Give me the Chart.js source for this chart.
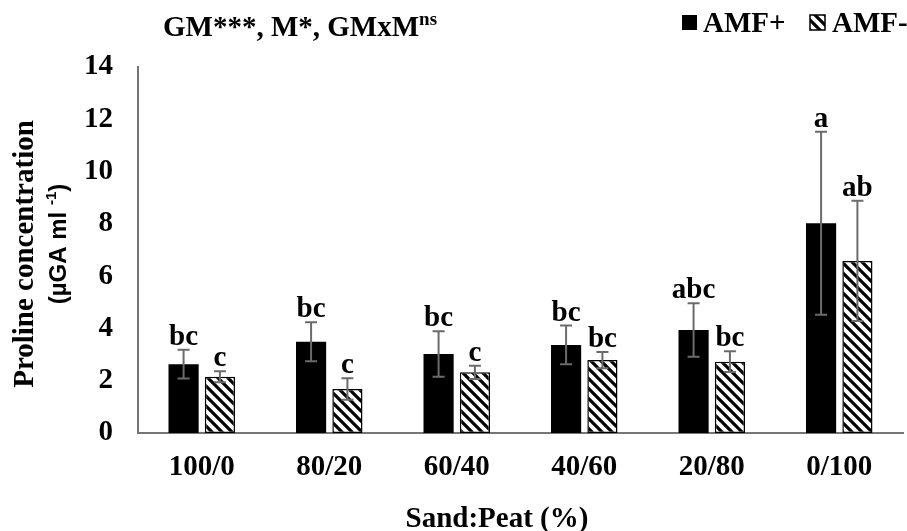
<!DOCTYPE html>
<html>
<head>
<meta charset="utf-8">
<script src="https://cdn.jsdelivr.net/npm/chart.js@4.4.1/dist/chart.umd.min.js"></script>
<style>
  body { margin: 0; background: #fff; }
  canvas { display: block; }
</style>
</head>
<body>
<canvas id="myChart" width="907" height="531"></canvas>
<script>
// données
var categories = ['100/0', '80/20', '60/40', '40/60', '20/80', '0/100'];
var amfPlus = [2.63, 3.49, 3.02, 3.37, 3.94, 8.02];
var amfPlusErr = [0.55, 0.75, 0.87, 0.74, 1.02, 3.5];
var amfMinus = [2.15, 1.68, 2.32, 2.79, 2.73, 6.58];
var amfMinusErr = [0.21, 0.41, 0.25, 0.31, 0.40, 2.3];
var amfPlusLetters = ['bc', 'bc', 'bc', 'bc', 'abc', 'a'];
var amfMinusLetters = ['c', 'c', 'c', 'bc', 'bc', 'ab'];
var yTicks = [0, 2, 4, 6, 8, 10, 12, 14];

var FONT = "'Liberation Serif', 'Times New Roman', serif";
var SANS = "'Liberation Sans', Arial, sans-serif";

// motif hachuré (diagonales \)
function makeHatch() {
    var c = document.createElement('canvas');
    c.width = 10; c.height = 10;
    var g = c.getContext('2d');
    g.fillStyle = '#fff';
    g.fillRect(0, 0, 10, 10);
    g.strokeStyle = '#000';
    g.lineWidth = 3.2;
    g.beginPath();
    g.moveTo(-2, -2); g.lineTo(12, 12);
    g.moveTo(-12, -2); g.lineTo(2, 12);
    g.moveTo(8, -2); g.lineTo(22, 12);
    g.stroke();
    return g.createPattern(c, 'repeat');
}
var hatch = makeHatch();

// barres d'erreur + lettres
var errorBarsPlugin = {
    id: 'errorBars',
    afterDatasetsDraw: function (chart) {
        var ctx = chart.ctx;
        var y = chart.scales.y;
        var sets = [
            { vals: amfPlus, err: amfPlusErr, letters: amfPlusLetters },
            { vals: amfMinus, err: amfMinusErr, letters: amfMinusLetters }
        ];
        sets.forEach(function (s, di) {
            var meta = chart.getDatasetMeta(di);
            meta.data.forEach(function (bar, i) {
                var top = y.getPixelForValue(s.vals[i] + s.err[i]);
                var bot = y.getPixelForValue(s.vals[i] - s.err[i]);
                ctx.save();
                ctx.strokeStyle = '#6b6b6b';
                ctx.lineWidth = 2;
                ctx.beginPath();
                ctx.moveTo(bar.x, top); ctx.lineTo(bar.x, bot);
                ctx.moveTo(bar.x - 6, top); ctx.lineTo(bar.x + 6, top);
                ctx.moveTo(bar.x - 6, bot); ctx.lineTo(bar.x + 6, bot);
                ctx.stroke();
                ctx.fillStyle = '#000';
                ctx.font = 'bold 29px ' + FONT;
                ctx.textAlign = 'center';
                ctx.textBaseline = 'alphabetic';
                ctx.fillText(s.letters[i], bar.x, top - 5);
                ctx.restore();
            });
        });
    }
};

// titres, légende
var textPlugin = {
    id: 'texts',
    afterDraw: function (chart) {
        var ctx = chart.ctx;
        ctx.save();
        ctx.fillStyle = '#000';
        ctx.textBaseline = 'alphabetic';

        // titre stat
        ctx.font = 'bold 29px ' + FONT;
        ctx.textAlign = 'left';
        var t = 'GM***, M*, GMxM';
        ctx.fillText(t, 163, 36);
        var w = ctx.measureText(t).width;
        ctx.font = 'bold 19px ' + FONT;
        ctx.fillText('ns', 163 + w, 25);

        // légende
        ctx.font = 'bold 29px ' + FONT;
        ctx.fillStyle = '#000';
        ctx.fillRect(682, 15, 15, 15);
        ctx.fillText('AMF+', 703, 32);
        ctx.fillStyle = hatch;
        ctx.fillRect(810, 15, 15, 15);
        ctx.strokeStyle = '#000';
        ctx.lineWidth = 1.5;
        ctx.strokeRect(810, 15, 15, 15);
        ctx.fillStyle = '#000';
        ctx.fillText('AMF-', 832, 32);

        // titre axe x
        ctx.textAlign = 'center';
        ctx.fillText('Sand:Peat (%)', 497, 527);

        // titre axe y
        ctx.translate(33, 254);
        ctx.rotate(-Math.PI / 2);
        ctx.fillText('Proline concentration', 0, 0);
        ctx.restore();

        ctx.save();
        ctx.fillStyle = '#000';
        ctx.translate(66, 244);
        ctx.rotate(-Math.PI / 2);
        ctx.font = 'bold 24px ' + SANS;
        var a = '(µGA ml ', b = '-1', c = ')';
        var wa = ctx.measureText(a).width, wc = ctx.measureText(c).width;
        ctx.font = 'bold 15px ' + SANS;
        var wb = ctx.measureText(b).width;
        var x0 = -(wa + wb + wc) / 2;
        ctx.textAlign = 'left';
        ctx.font = 'bold 24px ' + SANS;
        ctx.fillText(a, x0, 0);
        ctx.font = 'bold 15px ' + SANS;
        ctx.fillText(b, x0 + wa, -10);
        ctx.font = 'bold 24px ' + SANS;
        ctx.fillText(c, x0 + wa + wb, 0);
        ctx.restore();
    }
};

var ctx = document.getElementById('myChart').getContext('2d');
var myChart = new Chart(ctx, {
    type: 'bar',
    data: {
        labels: categories,
        datasets: [{
            label: 'AMF+',
            data: amfPlus,
            backgroundColor: '#000',
            borderWidth: 0,
            categoryPercentage: 0.57,
            barPercentage: 0.83
        }, {
            label: 'AMF-',
            data: amfMinus,
            backgroundColor: hatch,
            borderColor: '#000',
            borderWidth: 1.5,
            borderSkipped: false,
            categoryPercentage: 0.57,
            barPercentage: 0.83
        }]
    },
    options: {
        responsive: false,
        animation: false,
        devicePixelRatio: 1,
        layout: { padding: { top: 67, right: 4, left: 0, bottom: 0 } },
        plugins: {
            legend: { display: false },
            tooltip: { enabled: false }
        },
        scales: {
            x: {
                grid: { display: false, drawTicks: false },
                border: { display: true, color: '#767676', width: 2 },
                ticks: {
                    color: '#000',
                    padding: 17,
                    font: { family: FONT, size: 29, weight: 'bold' }
                },
                afterFit: function (s) { s.height = 98; }
            },
            y: {
                min: 0,
                max: 14,
                afterBuildTicks: function (s) {
                    s.ticks = yTicks.map(function (v) { return { value: v }; });
                },
                grid: { display: false, drawTicks: false },
                border: { display: true, color: '#767676', width: 2 },
                ticks: {
                    color: '#000',
                    padding: 25,
                    font: { family: FONT, size: 29, weight: 'bold' }
                },
                afterFit: function (s) { s.width = 138; }
            }
        }
    },
    plugins: [errorBarsPlugin, textPlugin]
});
</script>
</body>
</html>
